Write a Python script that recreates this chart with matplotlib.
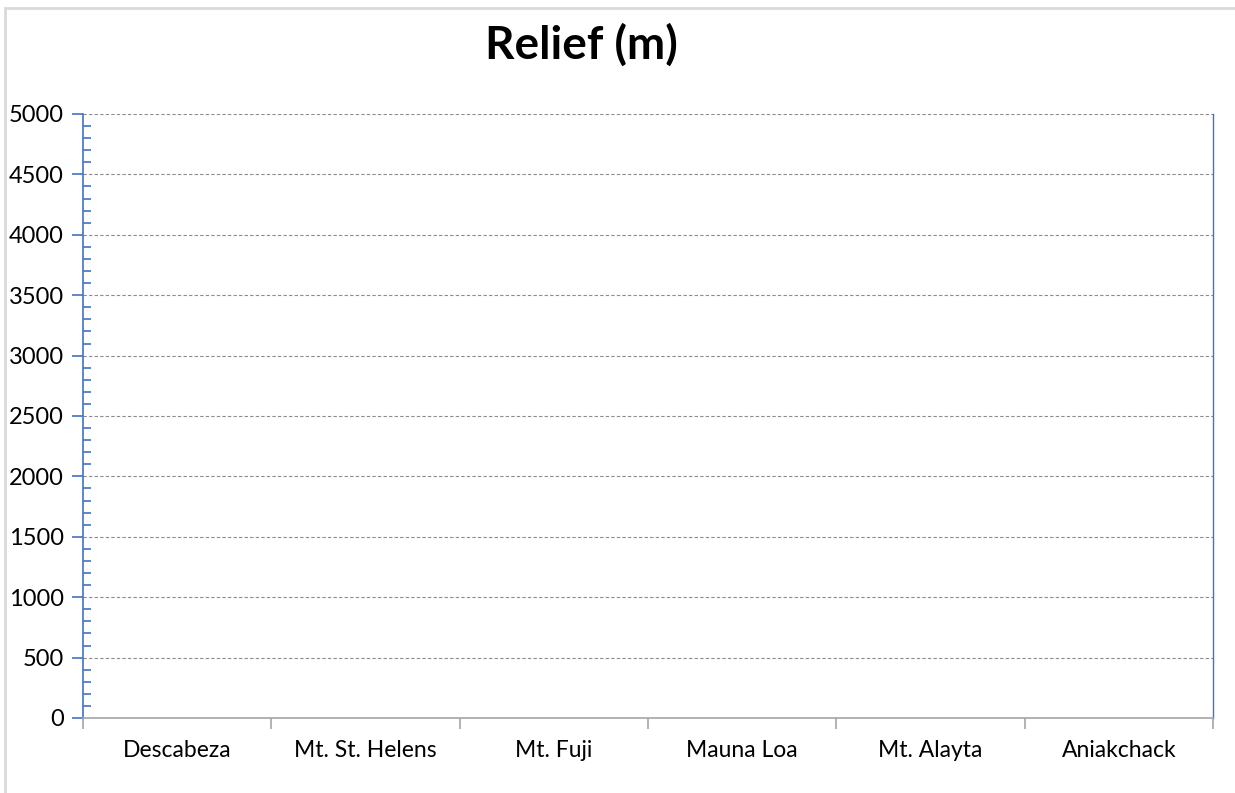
import matplotlib.pyplot as plt
from matplotlib.patches import Rectangle
from matplotlib.ticker import MultipleLocator

plt.rcParams['font.family'] = ['Lato', 'DejaVu Sans']

volcanoes = ["Descabeza", "Mt. St. Helens", "Mt. Fuji", "Mauna Loa", "Mt. Alayta", "Aniakchack"]
relief_m = [0, 0, 0, 0, 0, 0]  # no bars visible in the chart
y_ticks = [0, 500, 1000, 1500, 2000, 2500, 3000, 3500, 4000, 4500, 5000]

W, H = 1235, 793
fig = plt.figure(figsize=(W / 100, H / 100), dpi=100)
ax = fig.add_axes([83 / W, 1 - 718 / H, (1213 - 83) / W, (718 - 114) / H])

blue = "#4472C4"
grey = "#A6A6A6"

# chart frame (cropped at right and bottom)
fig.patches.append(Rectangle((5 / W, -0.1), 1.2, 1 - 8 / H + 0.1, transform=fig.transFigure,
                             fill=False, edgecolor="#D9D9D9", linewidth=2))

x = range(len(volcanoes))
ax.bar(x, relief_m, width=0.6, color=blue)

ax.set_xlim(-0.5, len(volcanoes) - 0.5)
ax.set_ylim(0, 5000)
ax.set_yticks(y_ticks)
ax.set_yticklabels([str(v) for v in y_ticks], fontsize=17)
ax.yaxis.set_minor_locator(MultipleLocator(100))
ax.tick_params(axis='y', which='major', direction='out', length=8, width=1.2, color=blue, pad=6)
ax.tick_params(axis='y', which='minor', direction='in', length=6, width=1.2, color=blue)

ax.set_xticks(list(x))
ax.set_xticklabels(volcanoes, fontsize=16.5)
ax.set_xticks([i - 0.5 for i in range(len(volcanoes) + 1)], minor=True)
ax.tick_params(axis='x', which='major', length=0, pad=16)
ax.tick_params(axis='x', which='minor', direction='out', length=8, width=1.2, color=grey)

ax.grid(axis='y', which='major', color="#8C8C8C", linestyle=(0, (3, 2)), linewidth=0.8)
ax.set_axisbelow(True)

ax.spines['left'].set_color(blue)
ax.spines['right'].set_color(blue)
ax.spines['left'].set_linewidth(1.2)
ax.spines['right'].set_linewidth(1.0)
ax.spines['bottom'].set_color(grey)
ax.spines['bottom'].set_linewidth(1.2)
ax.spines['top'].set_visible(False)

fig.text(581 / W, 1 - 45 / H, "Relief (m)", ha='center', va='center', fontsize=33, fontweight='bold')

fig.savefig("out.png", dpi=100)
